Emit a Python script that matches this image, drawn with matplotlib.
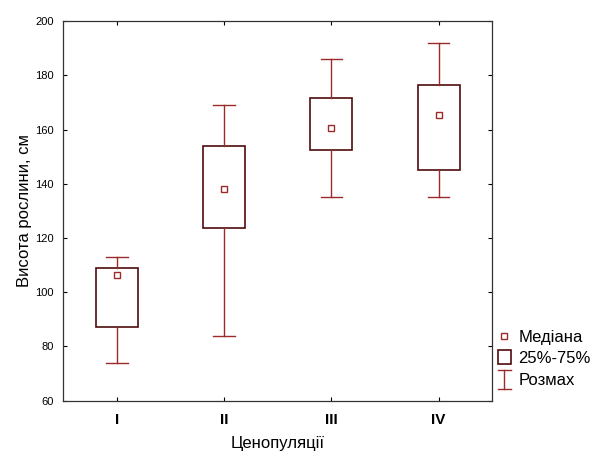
import matplotlib
matplotlib.use('Agg')
import matplotlib.pyplot as plt
from matplotlib.lines import Line2D
from matplotlib.patches import Rectangle
from matplotlib.legend_handler import HandlerBase

plt.rcParams['font.family'] = ['Liberation Sans', 'DejaVu Sans']

groups = ['I', 'II', 'III', 'IV']
medians = [106.3, 138.1, 160.7, 165.2]
q1 = [87.1, 123.6, 152.4, 144.9]
q3 = [108.8, 153.9, 171.7, 176.4]
mins = [74, 84, 135, 135]
maxs = [113, 169, 186, 192]

box_col = '#4f0c0c'
whisk_col = '#9b2a2a'


class RangeHandler(HandlerBase):
    # small I-beam for the whisker entry
    def create_artists(self, legend, orig, xd, yd, w, h, fontsize, trans):
        cx = -xd + w / 2
        lo, hi = -yd - 0.35 * h, -yd + 1.25 * h
        cw = 0.45 * w
        arts = [Line2D([cx, cx], [lo, hi]),
                Line2D([cx - cw, cx + cw], [lo, lo]),
                Line2D([cx - cw, cx + cw], [hi, hi])]
        for a in arts:
            a.set_color(whisk_col)
            a.set_linewidth(1.0)
            a.set_transform(trans)
        return arts


class BoxHandler(HandlerBase):
    def create_artists(self, legend, orig, xd, yd, w, h, fontsize, trans):
        bw = 0.9 * w
        r = Rectangle((-xd + (w - bw) / 2, -yd - 0.1 * h), bw, 1.25 * h,
                      facecolor='white', edgecolor=box_col, linewidth=1.2,
                      transform=trans)
        return [r]


stats = []
for i in range(len(groups)):
    stats.append({'med': medians[i], 'q1': q1[i], 'q3': q3[i],
                  'whislo': mins[i], 'whishi': maxs[i],
                  'mean': medians[i], 'fliers': [], 'label': groups[i]})

fig = plt.figure(figsize=(5.97, 4.53), dpi=100)
ax = fig.add_axes([0.106, 0.1155, 0.7186, 0.838])

ax.bxp(stats, positions=range(1, 5), widths=0.39, showmeans=True,
       patch_artist=True,
       boxprops=dict(facecolor='white', edgecolor=box_col, linewidth=1.2),
       whiskerprops=dict(color=whisk_col, linewidth=1.0),
       capprops=dict(color=whisk_col, linewidth=1.0),
       capwidths=0.2,
       medianprops=dict(visible=False),
       meanprops=dict(marker='s', markersize=4, markerfacecolor='white',
                      markeredgecolor=whisk_col, markeredgewidth=1.0))

ax.set_xlim(0.5, 4.5)
ax.set_ylim(60, 200)
ax.set_yticks(range(60, 201, 20))
ax.set_xticks(range(1, 5))
ax.set_xticklabels(groups, fontweight='bold', fontsize=11)
ax.tick_params(direction='in', top=True, right=True, length=3, width=0.8)
ax.tick_params(axis='y', labelsize=8, pad=7)
ax.tick_params(axis='x', pad=9)
for s in ax.spines.values():
    s.set_linewidth(0.9)
    s.set_color('#333333')

ax.set_ylabel('Висота рослини, см', fontsize=12, labelpad=2)
ax.set_xlabel('Ценопуляції', fontsize=12, labelpad=6)

handles = [
    Line2D([0], [0], marker='s', linestyle='none', markersize=4,
           markerfacecolor='white', markeredgecolor=whisk_col),
    Rectangle((0, 0), 1, 1),
    Line2D([0], [0]),
]
labels = ['Медіана', '25%-75%', 'Розмах']
fig.legend(handles, labels, loc='upper left', bbox_to_anchor=(0.833, 0.272),
           frameon=False, fontsize=12, handlelength=0.85, handletextpad=0.4,
           labelspacing=0.39, borderaxespad=0, borderpad=0,
           handler_map={Rectangle: BoxHandler(), handles[2]: RangeHandler()})

fig.savefig('out.png', dpi=100)
